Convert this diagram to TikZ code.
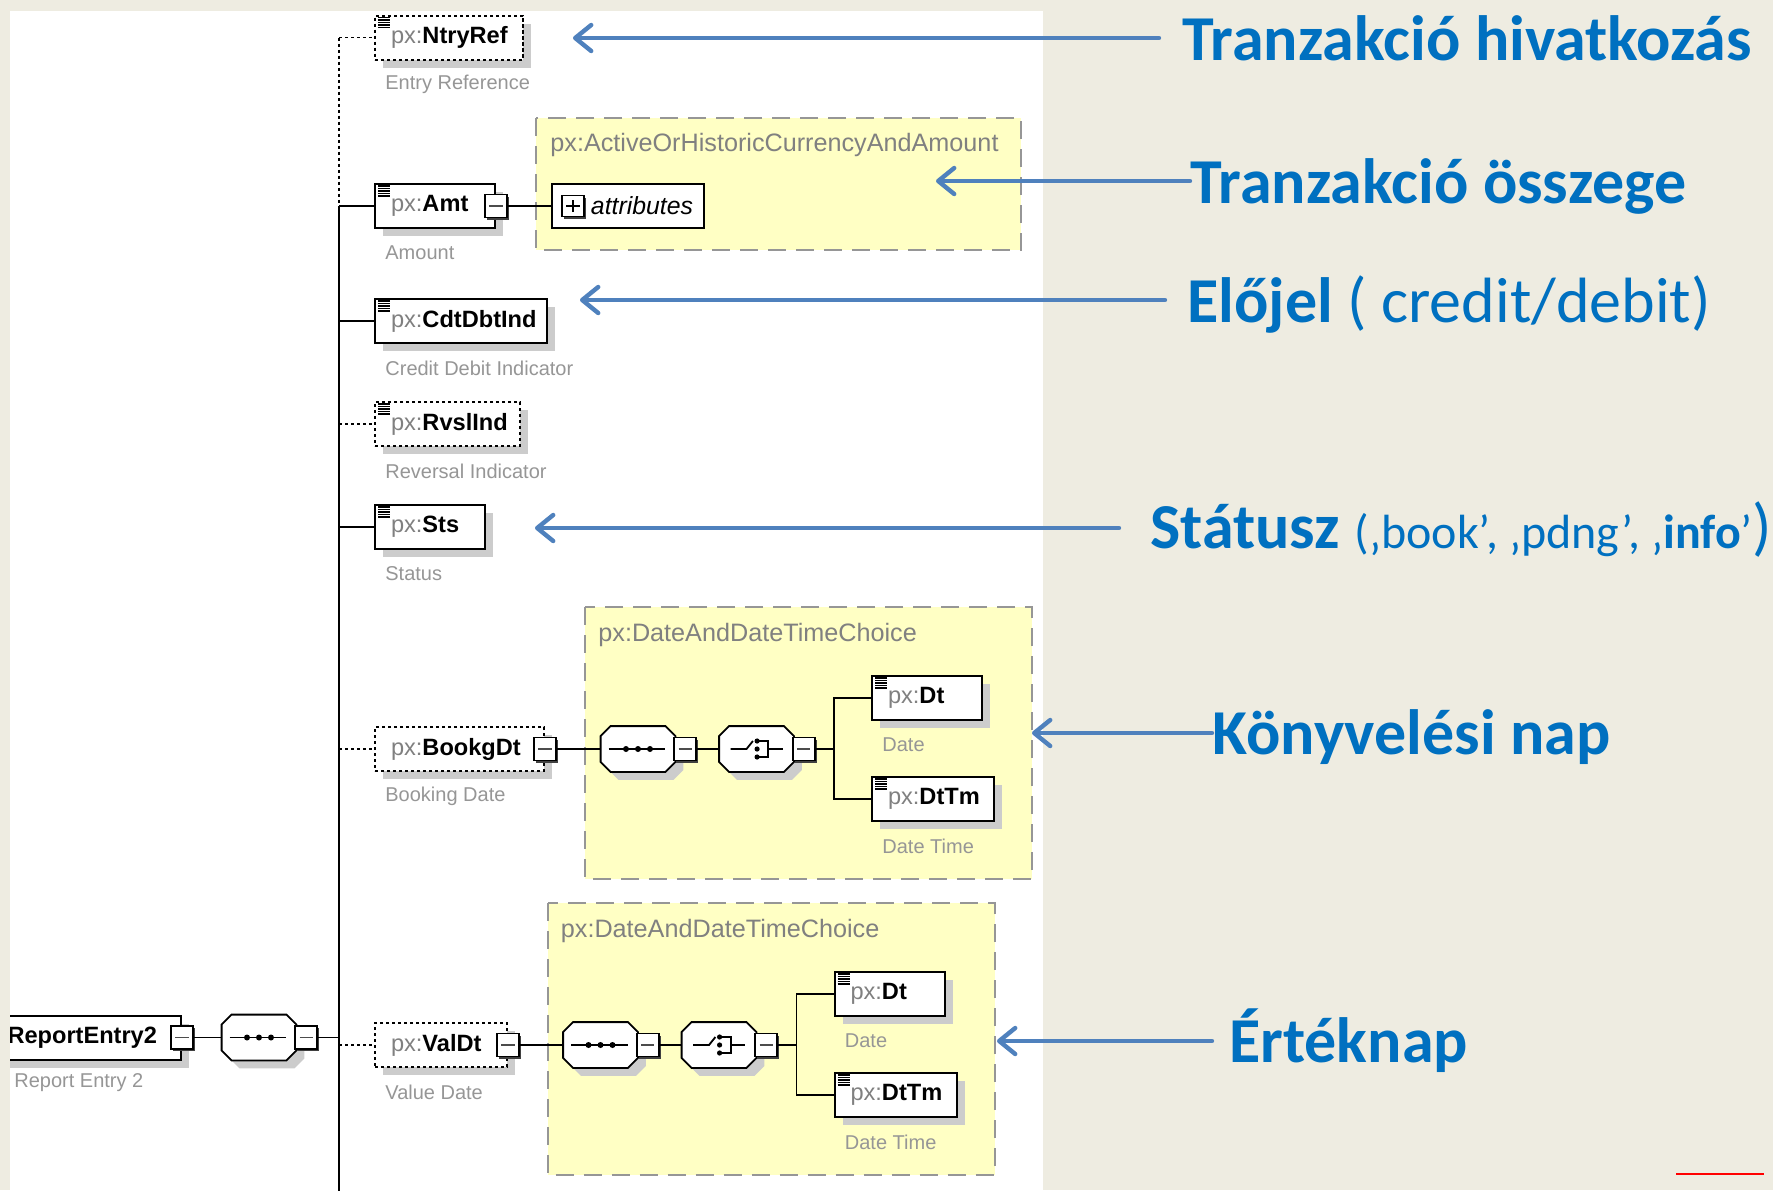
\documentclass[tikz,border=0pt]{standalone}
\usepackage{fontspec}
\setmainfont{Liberation Sans}
\newfontfamily\calibri{Carlito}
\usetikzlibrary{shadows,arrows.meta}

\definecolor{slidebg}{RGB}{238,236,225}
\definecolor{pxgray}{RGB}{128,128,128}
\definecolor{lblgray}{RGB}{150,150,150}
\definecolor{typefill}{RGB}{255,255,196}
\definecolor{typeedge}{RGB}{150,150,150}
\definecolor{calloutblue}{RGB}{79,129,189}
\definecolor{textblue}{RGB}{0,112,192}

\newcommand{\pxpre}{\textcolor{pxgray}{px:}}

\tikzset{
  elshadow/.style={drop shadow={shadow xshift=4pt, shadow yshift=-4pt, fill=black!20, opacity=1}},
  elem/.style={draw, line width=1pt, fill=white, anchor=west, minimum height=22pt,
    inner xsep=8pt, inner ysep=0pt, text width=#1, align=left,
    font=\fontsize{11.8}{14}\selectfont, elshadow},
  optline/.style={dash pattern=on 1.6pt off 1.4pt},
  wire/.style={line width=0.8pt},
  elnote/.style={anchor=west, inner sep=0pt, text=lblgray, font=\fontsize{10}{12}\selectfont},
  typebox/.style={fill=typefill, draw=typeedge, line width=1pt, dash pattern=on 9pt off 5pt},
  typename/.style={anchor=west, inner sep=0pt, text=pxgray, font=\fontsize{12.6}{15}\selectfont},
  btn/.style={draw, line width=0.9pt, fill=white, minimum width=11pt, minimum height=11.5pt, inner sep=0pt,
    drop shadow={shadow xshift=1pt, shadow yshift=-1pt, fill=black!75, opacity=1},
    path picture={\draw[line width=0.8pt, black!70] ([xshift=2.2pt]path picture bounding box.west) -- ([xshift=-2.2pt]path picture bounding box.east);}},
  plusbtn/.style={draw, line width=0.9pt, fill=white, minimum width=11pt, minimum height=10.5pt, inner sep=0pt,
    drop shadow={shadow xshift=1pt, shadow yshift=-1pt, fill=black!75, opacity=1},
    path picture={\draw[line width=0.8pt] ([xshift=2.2pt]path picture bounding box.west) -- ([xshift=-2.2pt]path picture bounding box.east)
      ([yshift=2.2pt]path picture bounding box.south) -- ([yshift=-2.2pt]path picture bounding box.north);}},
  octnode/.style={minimum width=37pt, minimum height=22.5pt, inner sep=0pt},
  octa/.style={draw, line width=0.9pt, fill=white, elshadow},
  bluearrow/.style={draw=calloutblue, line width=2.2pt, line cap=round, -{Straight Barb[length=8pt, width=13pt, round]}},
  bluetext/.style={anchor=base west, inner sep=0pt, text=textblue, font=\calibri\fontsize{32}{37}\selectfont}
}

\begin{document}
\begin{tikzpicture}[x=0.5pt, y=-0.5pt]
  \useasboundingbox (0,0) rectangle (1773,1190);
  \fill[slidebg] (0,0) rectangle (1773,1190);
  \fill[white] (10,11) rectangle (1043,1190);

  \begin{scope}
  \clip (10,11) rectangle (1043,1190);

  % amount type
  \draw[typebox] (536,118) rectangle (1021,250);
  \node[typename] (type-amt) at (550,145) {px:ActiveOrHistoricCurrencyAndAmount};
  \node[draw, line width=1pt, fill=white, anchor=west, minimum height=22pt, inner xsep=5.5pt, inner ysep=0pt,
    text width=65pt, align=right, font=\fontsize{12.4}{15}\selectfont\itshape] (attr) at (551,206) {attributes};
  \node[plusbtn] (attr-plus) at ([xshift=11pt]attr.west) {};

  % children of ReportEntry2
  \node[elem=58pt, optline] (ntry) at (374,37.5) {\pxpre\textbf{NtryRef}};
  \node[elem=44pt] (amt) at (374,206) {\pxpre\textbf{Amt}};
  \node[elem=70pt] (cdt) at (374,321) {\pxpre\textbf{CdtDbtInd}};
  \node[elem=56.5pt, optline] (rvsl) at (374,424) {\pxpre\textbf{RvslInd}};
  \node[elem=39pt] (sts) at (374,527) {\pxpre\textbf{Sts}};
  \node[elem=68.5pt, optline] (bookg) at (374,749) {\pxpre\textbf{BookgDt}};
  \node[elem=50pt, optline] (valdt) at (374,1045) {\pxpre\textbf{ValDt}};
  \node[elem=100pt, anchor=east, align=right, inner xsep=12pt] (re) at (182,1037.5) {\textbf{ReportEntry2}};

  \node[elnote] (ntry-l) at ([shift={(11,24)}]ntry.south west) {Entry Reference};
  \node[elnote] (amt-l) at ([shift={(11,24)}]amt.south west) {Amount};
  \node[elnote] (cdt-l) at ([shift={(11,24)}]cdt.south west) {Credit Debit Indicator};
  \node[elnote] (rvsl-l) at ([shift={(11,24)}]rvsl.south west) {Reversal Indicator};
  \node[elnote] (sts-l) at ([shift={(11,24)}]sts.south west) {Status};
  \node[elnote] (bookg-l) at ([shift={(11,24)}]bookg.south west) {Booking Date};
  \node[elnote] (valdt-l) at ([shift={(11,24)}]valdt.south west) {Value Date};
  \node[elnote] (re-l) at (14,1083) {Report Entry 2};

  % date choice types
  \foreach \s/\dx/\dy in {b/0/0, v/-37.5/296}{
    \draw[typebox] ({585+\dx},{607+\dy}) rectangle ({1032+\dx},{879+\dy});
    \node[typename] (type-\s) at ({598+\dx},{635+\dy}) {px:DateAndDateTimeChoice};
    \node[octnode] (seq-\s) at ({638+\dx},{749+\dy}) {};
    \node[octnode] (ch-\s) at ({756.5+\dx},{749+\dy}) {};
    \coordinate (br-\s) at ({834+\dx},{749+\dy});
    \node[elem=39pt] (dt-\s) at ({871+\dx},{698+\dy}) {\pxpre\textbf{Dt}};
    \node[elem=45pt] (dttm-\s) at ({871+\dx},{799+\dy}) {\pxpre\textbf{DtTm}};
    \node[elnote] (dt-\s-l) at ([shift={(11,24)}]dt-\s.south west) {Date};
    \node[elnote] (dttm-\s-l) at ([shift={(11,24)}]dttm-\s.south west) {Date Time};
  }
  \node[octnode] (seq-re) at (259,1037.5) {};

  % compositors
  \foreach \o in {seq-re, seq-b, ch-b, seq-v, ch-v}{
    \draw[octa] ([xshift=5pt]\o.north west) -- ([xshift=-5pt]\o.north east) -- ([yshift=-5pt]\o.north east)
      -- ([yshift=5pt]\o.south east) -- ([xshift=-5pt]\o.south east) -- ([xshift=5pt]\o.south west)
      -- ([yshift=5pt]\o.south west) -- ([yshift=-5pt]\o.north west) -- cycle;
    \node[btn, anchor=west] (btn-\o) at ([xshift=-1pt]\o.east) {};
  }
  \foreach \o in {seq-re, seq-b, seq-v}{
    \draw[line width=0.9pt] ([xshift=4pt]\o.west) -- ([xshift=-5pt]\o.east);
    \foreach \d in {-6pt,0pt,6pt}
      \fill ([xshift=\d]\o.center) circle (1.5pt);
  }
  \foreach \o in {ch-b, ch-v}{
    \draw[line width=0.9pt] ([xshift=-13pt]\o.center) -- ([xshift=-5pt]\o.center) -- ([xshift=-1.8pt,yshift=4pt]\o.center);
    \draw[line width=0.9pt] ([xshift=0.3pt,yshift=4pt]\o.center) -- ([xshift=5.8pt,yshift=4pt]\o.center)
      -- ([xshift=5.8pt,yshift=-4pt]\o.center) -- ([xshift=0.3pt,yshift=-4pt]\o.center);
    \draw[line width=0.9pt] ([xshift=5.8pt]\o.center) -- ([xshift=13pt]\o.center);
    \foreach \d in {-4pt,0pt,4pt}
      \fill ([xshift=0.3pt,yshift=\d]\o.center) circle (1.3pt);
  }
  \foreach \e in {amt, bookg, valdt, re}
    \node[btn] (btn-\e) at (\e.east) {};

  % simple type icons
  \foreach \n in {ntry, amt, cdt, rvsl, sts, dt-b, dttm-b, dt-v, dttm-v}
    \foreach \k in {0,1,2,3,4}
      \draw[line width=0.55pt] ([shift={(4,{3+2.5*\k})}]\n.north west) -- ++(12,0);

  % connectors
  \coordinate (bus-top) at (339,37.5);
  \coordinate (bus-end) at (339,1195);
  \draw[wire, optline] (bus-top) -- (ntry.west);
  \draw[wire, optline] (bus-top) -- (bus-top |- amt.west);
  \draw[wire] (bus-top |- amt.west) -- (bus-end);
  \draw[wire] (bus-top |- amt.west) -- (amt.west);
  \draw[wire] (bus-top |- cdt.west) -- (cdt.west);
  \draw[wire, optline] (bus-top |- rvsl.west) -- (rvsl.west);
  \draw[wire] (bus-top |- sts.west) -- (sts.west);
  \draw[wire, optline] (bus-top |- bookg.west) -- (bookg.west);
  \draw[wire, optline] (bus-top |- valdt.west) -- (valdt.west);
  \draw[wire] (btn-re.east) -- (seq-re.west);
  \draw[wire] (btn-seq-re.east) -- (bus-top |- btn-seq-re.east);
  \draw[wire] (btn-amt.east) -- (attr.west);
  \foreach \s/\p in {b/bookg, v/valdt}{
    \draw[wire] (btn-\p.east) -- (seq-\s.west);
    \draw[wire] (btn-seq-\s.east) -- (ch-\s.west);
    \draw[wire] (btn-ch-\s.east) -- (br-\s);
    \draw[wire] (dt-\s.west) -| (br-\s) |- (dttm-\s.west);
  }
  \end{scope}

  % explanations
  \node[bluetext] (t-ntry) at (1182,60) {\bfseries Tranzakció hivatkozás};
  \node[bluetext] (t-amt) at (1190,203) {\bfseries Tranzakció összege};
  \node[bluetext] (t-cdt) at (1187,322) {\textbf{Előjel} ( credit/debit)};
  \node[bluetext] (t-sts) at (1150,548) {\textbf{Státusz} {\fontsize{24}{28}\selectfont (‚book’, ‚pdng’, ‚\textbf{info}’})};
  \node[bluetext] (t-bookg) at (1212,754) {\bfseries Könyvelési nap};
  \node[bluetext] (t-valdt) at (1229,1062) {\bfseries Értéknap};

  \coordinate (a-ntry) at (1159,38);   \coordinate (p-ntry) at (573,38);
  \coordinate (a-amt) at (1190,181);   \coordinate (p-amt) at (936,181);
  \coordinate (a-cdt) at (1165,300);   \coordinate (p-cdt) at (580,300);
  \coordinate (a-sts) at (1119,528);   \coordinate (p-sts) at (535,528);
  \coordinate (a-bookg) at (1212,733); \coordinate (p-bookg) at (1032,733);
  \coordinate (a-valdt) at (1212,1041); \coordinate (p-valdt) at (997,1041);
  \foreach \n in {ntry, amt, cdt, sts, bookg, valdt}
    \draw[bluearrow] (a-\n) -- (p-\n);

  \draw[red, line width=0.8pt] (1676,1174) -- (1764,1174);
\end{tikzpicture}
\end{document}
